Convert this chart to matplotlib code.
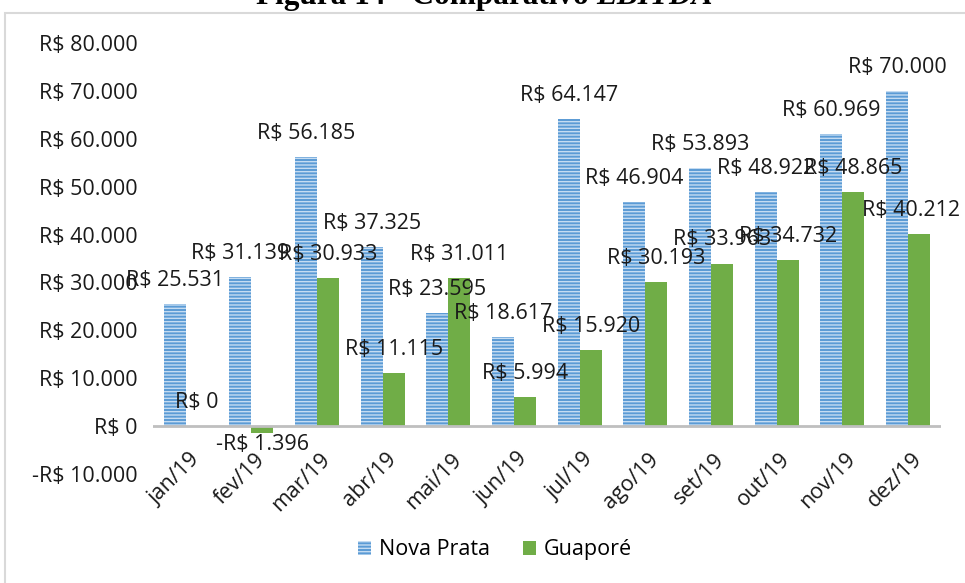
import numpy as np
import matplotlib
matplotlib.use("Agg")
import matplotlib.pyplot as plt
from matplotlib.patches import Rectangle
from matplotlib.transforms import ScaledTranslation

# dados
meses = ["jan/19", "fev/19", "mar/19", "abr/19", "mai/19", "jun/19",
         "jul/19", "ago/19", "set/19", "out/19", "nov/19", "dez/19"]
nova_prata = [25531, 31139, 56185, 37325, 23595, 18617,
              64147, 46904, 53893, 48922, 60969, 70000]
guapore = [0, -1396, 30933, 11115, 31011, 5994,
           15920, 30193, 33963, 34732, 48865, 40212]
y_ticks = [-10000, 0, 10000, 20000, 30000, 40000, 50000, 60000, 70000, 80000]


def brl(v):
    s = "R$ " + f"{abs(v):,.0f}".replace(",", ".")
    return "-" + s if v < 0 else s


plt.rcParams['font.family'] = ['Open Sans', 'DejaVu Sans']
plt.rcParams['hatch.linewidth'] = 1.0
fs = 15.5
tc = '#1a1a1a'

fig = plt.figure(figsize=(9.65, 5.83), dpi=100)
ax = fig.add_axes([0.1585, 0.187, 0.8165, 0.739])

x = np.arange(len(meses))
w = 0.335
b1 = ax.bar(x - w / 2, nova_prata, w, color='#5B9BD5', edgecolor='#C5DCF2',
            linewidth=0, hatch='-----', label='Nova Prata')
b2 = ax.bar(x + w / 2, guapore, w, color='#70AD47', linewidth=0, label='Guaporé')

# rótulos dos dados
n = len(meses)
for bars, vals in ((b1, nova_prata), (b2, guapore)):
    for i, (r, v) in enumerate(zip(bars, vals)):
        cx = r.get_x() + r.get_width() / 2
        dx = -6 if (bars is b2 and i == n - 1) else 0  # mantém dentro da moldura
        if v < 0:
            ax.annotate(brl(v), (cx, v), xytext=(dx, -1), textcoords='offset points',
                        ha='center', va='top', fontsize=fs, color=tc)
        else:
            ax.annotate(brl(v), (cx, v), xytext=(dx, 13), textcoords='offset points',
                        ha='center', va='baseline', fontsize=fs, color=tc)

ax.axhline(0, color='#BFBFBF', lw=2, zorder=3)
ax.set_ylim(-10000, 80000)
ax.set_xlim(-0.5, n - 0.5)
ax.set_yticks(y_ticks, [brl(v) for v in y_ticks], fontsize=fs, color=tc)
ax.set_xticks(x, meses, rotation=45, ha='right', rotation_mode='anchor',
              fontsize=fs, color=tc)
ax.tick_params(length=0, axis='both')
ax.tick_params(axis='x', pad=0)
ax.tick_params(axis='y', pad=11)
off = ScaledTranslation(0.03, 0.25, fig.dpi_scale_trans)
for lab in ax.get_xticklabels():
    lab.set_transform(lab.get_transform() + off)
for s in ax.spines.values():
    s.set_visible(False)

fig.legend(loc='center', bbox_to_anchor=(0.513, 0.057), ncol=2, frameon=False,
           fontsize=fs, handlelength=0.6, handleheight=0.6, columnspacing=1.5,
           handletextpad=0.4)

# moldura do gráfico
fig.patches.append(Rectangle((5 / 965, -0.1), 1.2, 1.1 - 13 / 583, transform=fig.transFigure,
                             fill=False, edgecolor='#D9D9D9', lw=1.5))

# título (cortado no topo)
fig.text(0.618, 1 - 4 / 583, "Figura 14 - Comparativo ", ha='right', va='baseline',
         fontsize=22.5, fontweight='bold', family='Liberation Serif')
fig.text(0.618, 1 - 4 / 583, "EBITDA", ha='left', va='baseline',
         fontsize=22.5, fontweight='bold', style='italic', family='Liberation Serif')

fig.savefig("out.png", dpi=100)
